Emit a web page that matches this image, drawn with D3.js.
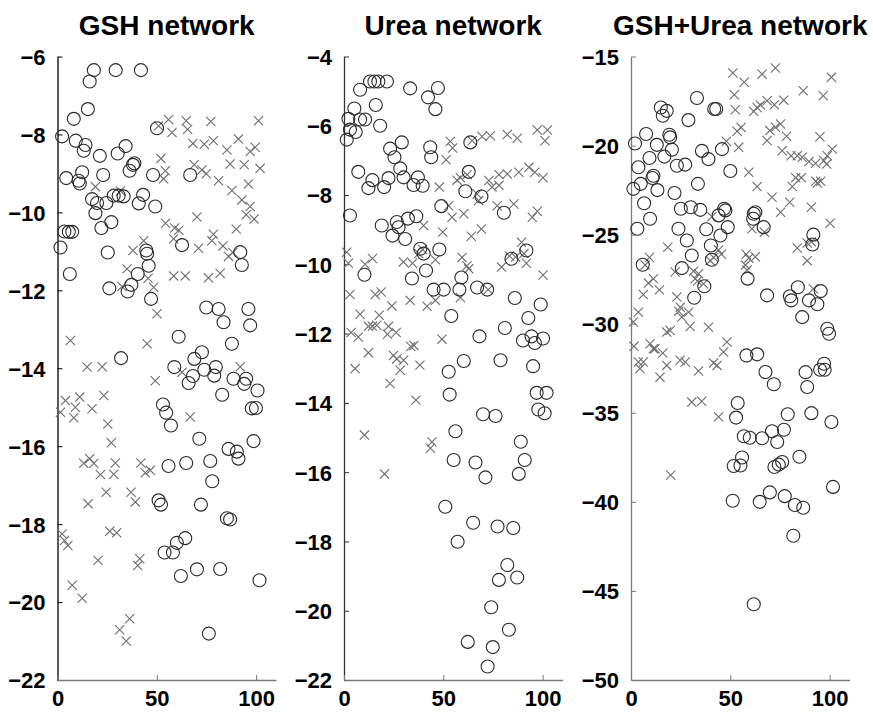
<!DOCTYPE html>
<html>
<head>
<meta charset="utf-8">
<script src="https://cdn.jsdelivr.net/npm/d3@7/dist/d3.min.js"></script>
<style>
  html, body { margin: 0; padding: 0; background: #fff; }
  svg { display: block; }
  text { font-family: Arial, "Liberation Sans", Helvetica, sans-serif; font-weight: bold; fill: #000; }
</style>
</head>
<body>
<svg id="chart" width="873" height="712"></svg>
<script>
// ---------------- DATA ----------------
const titles = ["GSH network", "Urea network", "GSH+Urea network"];
const xTicks = [0, 50, 100];
const yTicksGSH = [-22, -20, -18, -16, -14, -12, -10, -8, -6];
const yTicksUrea = [-22, -20, -18, -16, -14, -12, -10, -8, -6, -4];
const yTicksBoth = [-50, -45, -40, -35, -30, -25, -20, -15];

// GSH network: circles
const gshCircles = [[18.3,-6.35],[29.3,-6.35],[42,-6.35],[16.2,-6.64],[15.3,-7.35],[8.2,-7.6],[2.3,-8.05],[9.2,-8.16],[14.1,-8.27],[13.2,-8.42],[34.3,-8.3],[30.3,-8.49],[21.3,-8.55],[50.1,-7.84],[38.7,-8.74],[38,-8.78],[36.3,-8.93],[4.4,-9.12],[12.4,-8.97],[10.6,-9.19],[11.2,-9.26],[23,-9.04],[48.1,-9.04],[66.8,-9.04],[17.4,-9.66],[19.9,-9.76],[24.6,-9.76],[19.1,-10.02],[28.3,-9.57],[30.8,-9.57],[33.3,-9.59],[43.1,-9.55],[40.9,-9.77],[49.2,-9.85],[3.5,-10.49],[5.7,-10.5],[7.4,-10.5],[1.5,-10.9],[22.1,-10.4],[27.1,-10.25],[25.3,-11.03],[44.7,-10.98],[45.1,-11.06],[45.9,-11.37],[62.7,-10.84],[92,-11.02],[92.8,-11.35],[6.2,-11.58],[40.4,-11.58],[37.2,-11.86],[35.3,-12.03],[26.1,-11.95],[47.1,-12.22],[74.9,-12.44],[81.1,-12.48],[96.1,-12.48],[83.6,-12.82],[97,-12.9],[61,-13.19],[87.8,-13.37],[32,-13.74],[72.7,-13.59],[68.9,-13.76],[58.8,-13.97],[73.9,-14.04],[79.7,-13.97],[78.9,-14.19],[68.2,-14.2],[66,-14.38],[88.6,-14.27],[95,-14.27],[94,-14.4],[100.7,-14.57],[82.9,-14.68],[53.1,-14.93],[54.7,-15.14],[57.1,-15.47],[97.8,-15.03],[99.9,-15.02],[71.4,-15.81],[98.7,-15.87],[86.1,-16.07],[90.3,-16.14],[91.1,-16.32],[76.9,-16.38],[64.8,-16.43],[55.9,-16.51],[77.9,-16.9],[50.9,-17.39],[52.1,-17.5],[72.2,-17.5],[85.3,-17.85],[86.9,-17.88],[64.3,-18.36],[60.1,-18.48],[53.9,-18.73],[58.1,-18.73],[62.1,-19.33],[70.2,-19.16],[81.9,-19.15],[101.7,-19.44],[76.2,-20.81]];
// GSH network: crosses
const gshCrosses = [[50.9,-7.78],[55.9,-7.62],[57.6,-7.95],[64.8,-7.65],[65.5,-7.87],[77.2,-7.67],[101.2,-7.65],[68.2,-8.23],[73.9,-8.25],[78.5,-8.16],[85.3,-8.4],[91.1,-8.12],[97,-8.44],[99.5,-8.33],[52.1,-8.62],[54.3,-8.93],[53.4,-9.14],[68.8,-8.78],[72.7,-8.91],[74.9,-9.01],[81.1,-9.19],[86.9,-8.76],[94,-8.78],[102,-8.87],[96.1,-9.27],[87.8,-9.44],[92.8,-9.68],[97,-9.85],[95,-10.06],[99,-10.17],[19.1,-9.34],[31.7,-9.45],[54.4,-10.28],[59,-10.4],[61.1,-10.46],[70.2,-10.12],[90,-10.43],[58.5,-10.68],[78.5,-10.56],[77.7,-10.73],[83.3,-10.86],[86.1,-11.13],[88.3,-11.03],[71,-10.92],[43.4,-10.73],[38,-10.98],[35,-11.45],[45.6,-11.69],[48.4,-11.92],[32.5,-11.9],[58.5,-11.63],[64.3,-11.63],[76,-11.68],[81.9,-11.56],[50.1,-12.6],[6.5,-13.29],[45.1,-13.37],[14.9,-13.97],[22.5,-13.96],[92,-13.96],[49.2,-14.32],[62.7,-14.1],[4,-14.83],[11.2,-14.74],[9,-15],[1.5,-15.13],[8.2,-15.27],[17.4,-15.04],[23.3,-14.7],[25.3,-15.43],[27.1,-15.91],[66.8,-15.25],[13.2,-16.44],[16.2,-16.32],[18.3,-16.44],[21.6,-16.73],[28.3,-16.72],[29.1,-16.43],[42,-16.43],[44.2,-16.68],[46.7,-16.62],[24.5,-17.18],[15.4,-17.48],[37,-17.18],[39.2,-17.43],[2.3,-18.25],[3.5,-18.42],[5.2,-18.55],[26.3,-18.18],[29.8,-18.22],[20.4,-18.93],[41.4,-18.89],[40.4,-19.06],[7.4,-19.57],[12.4,-19.9],[36.3,-20.43],[31.3,-20.71],[34.6,-21]];

// Urea network: circles
const ureaCircles = [[13.1,-4.72],[15.3,-4.72],[17.3,-4.72],[21.6,-4.72],[8.1,-4.96],[33.3,-4.92],[47.3,-4.91],[42.3,-5.18],[46,-5.52],[16,-5.4],[5.2,-5.5],[2.2,-5.8],[8.1,-5.82],[10.6,-5.82],[18.2,-6],[3,-6.11],[5.9,-6.18],[1.4,-6.4],[29.1,-6.48],[43.4,-6.62],[43.9,-6.91],[23.2,-6.66],[25.4,-6.91],[63.6,-6.48],[28.3,-7.23],[30,-7.49],[7.2,-7.33],[14.3,-7.57],[12.3,-7.8],[20.2,-7.77],[22.4,-7.51],[37.2,-7.49],[35,-7.71],[39.6,-7.73],[62.8,-7.33],[61.1,-7.89],[69.2,-8.04],[49,-8.32],[80.5,-8.51],[3,-8.59],[19,-8.88],[26.6,-8.78],[27.5,-8.93],[24.4,-9.17],[30.8,-9.27],[32.2,-8.68],[36.4,-8.61],[38.4,-9.55],[40.1,-9.69],[48,-9.57],[41.3,-10.18],[34.2,-10.41],[10.3,-10.3],[59.1,-10.38],[45.1,-10.73],[50.2,-10.73],[58.1,-10.73],[67,-10.67],[72.1,-10.73],[84.3,-9.84],[91.8,-9.6],[86,-10.97],[99,-11.16],[92.8,-11.55],[54,-11.49],[68.2,-12.08],[81,-11.84],[90.1,-12.2],[94.4,-12.08],[96.1,-12.27],[100.2,-12.14],[60.3,-12.79],[78.8,-12.77],[52.7,-13.1],[95.2,-12.94],[53.2,-13.76],[97,-13.71],[102,-13.71],[70,-14.33],[76.3,-14.38],[97.8,-14.19],[101,-14.3],[56.1,-14.82],[89,-15.12],[91,-15.65],[88,-16.05],[55.2,-15.65],[66.2,-15.72],[71.2,-16.15],[51,-17],[65,-17.46],[77.3,-17.57],[85.2,-17.61],[57.2,-18.01],[82.2,-18.68],[78,-19.11],[87.2,-19.04],[74.1,-19.9],[83,-20.55],[62.3,-20.9],[74.9,-21.05],[72.3,-21.61]];
// Urea network: crosses
const ureaCrosses = [[53.5,-6.45],[54.7,-6.64],[51.4,-6.98],[69.5,-6.31],[73.7,-6.29],[82.2,-6.25],[87.2,-6.36],[97.3,-6.12],[102.4,-6.12],[101.2,-6.43],[64.5,-6.43],[48,-7.77],[56.9,-7.57],[62,-7.41],[58.6,-7.5],[72.9,-7.58],[78,-7.41],[82.2,-7.39],[88,-7.34],[93.1,-7.2],[96.1,-7.34],[100.2,-7.5],[74.5,-7.77],[78,-7.72],[67,-7.97],[67.8,-8.16],[52.7,-8.31],[60.3,-8.54],[54.4,-8.64],[77.1,-8.31],[85.5,-8.26],[94.8,-8.64],[97.3,-8.47],[40.1,-8.88],[49.7,-9.07],[64.1,-9.19],[69.2,-8.98],[1.3,-9.65],[2.2,-9.97],[10.6,-10],[14.3,-9.83],[29.9,-9.93],[34.5,-9.97],[37.6,-9.69],[39.6,-9.57],[46,-9.87],[59.4,-9.8],[61.9,-10.04],[62.8,-10.13],[79.3,-10.08],[89.4,-9.36],[90.6,-9.69],[86.4,-9.79],[91.8,-9.97],[83.3,-9.76],[100.2,-10.31],[3,-10.87],[15.7,-10.87],[18.7,-10.8],[24.1,-11.2],[33.3,-11.04],[41.8,-11.21],[46,-11.04],[58.6,-10.96],[72.6,-10.73],[8.1,-11.44],[17.7,-11.47],[12.3,-11.79],[14.3,-11.79],[16.5,-11.76],[22.4,-11.79],[21.9,-12.02],[26.3,-11.97],[3.6,-11.97],[7.2,-12.1],[49.3,-12.16],[12.3,-12.55],[24.9,-12.63],[26.6,-12.73],[30,-12.77],[33.6,-12.37],[35.2,-12.34],[38.2,-12.91],[5.6,-13.01],[28.3,-13.06],[23.2,-13.44],[36.2,-13.92],[10.3,-14.93],[44.3,-15.13],[43.5,-15.31],[20.4,-16.05]];

// GSH+Urea network: circles
const bothCircles = [[33.2,-17.33],[15,-17.86],[18,-18.05],[16,-18.33],[41.9,-17.95],[42.9,-17.95],[28.9,-18.57],[7.6,-19.35],[19.3,-19.39],[19.7,-19.54],[2,-19.88],[13,-19.96],[20.6,-20.23],[9.3,-20.7],[16.8,-20.62],[35.7,-20.3],[39,-20.76],[45.8,-20.2],[23.1,-21.13],[27.3,-21.07],[3.7,-21.22],[11.3,-21.69],[10.8,-21.82],[50,-21.43],[4.9,-22.15],[1.2,-22.43],[13.3,-22.5],[21.9,-22.66],[33.7,-22.15],[6.6,-23.24],[9.6,-24.11],[25.1,-23.55],[30.1,-23.46],[34.9,-23.61],[44.1,-23.92],[46.9,-23.55],[47.5,-23.64],[61.8,-23.83],[62.6,-23.74],[66.8,-24.58],[61.5,-24.11],[3.2,-24.67],[23.9,-24.67],[37.9,-24.7],[48.7,-24.58],[45,-25.05],[28.1,-25.33],[40.2,-25.61],[30.6,-26.17],[40.7,-26.41],[5.9,-26.69],[25.6,-26.88],[36.9,-27.9],[31.8,-28.54],[58.7,-27.47],[68.5,-28.41],[84,-27.95],[80,-28.46],[80.7,-28.69],[89.6,-28.69],[93.8,-28.91],[95.5,-28.17],[91.8,-25],[91.3,-25.55],[86.2,-29.63],[98.8,-30.28],[99.7,-30.56],[58.1,-31.78],[63.5,-31.72],[67.7,-32.71],[71.9,-33.4],[87.9,-32.72],[88.7,-33.55],[95.2,-32.58],[97.5,-32.58],[97.2,-32.25],[53.7,-34.45],[52.9,-35.27],[78.9,-35.08],[90.8,-35.02],[100.9,-35.52],[56.8,-36.32],[59.8,-36.4],[66,-36.43],[71,-36.04],[73.6,-36.64],[77,-35.95],[55.9,-37.51],[51.7,-37.99],[55.1,-37.96],[72.2,-38.04],[74.4,-37.91],[76.1,-37.76],[84.8,-37.47],[101.7,-39.16],[51.2,-39.94],[64.8,-40],[69.9,-39.47],[77.4,-39.68],[82.5,-40.18],[86.7,-40.33],[81.7,-41.9],[61.8,-45.75]];
// GSH+Urea network: crosses
const bothCrosses = [[51.3,-15.93],[57,-16.45],[66,-15.99],[72.7,-15.65],[100.9,-16.17],[52,-17.15],[86.7,-16.92],[96.8,-17.2],[52.5,-17.99],[61.8,-18.08],[65.2,-17.73],[68.5,-17.48],[72.2,-17.71],[76.9,-17.45],[63.5,-17.86],[53.4,-19.2],[55.4,-18.98],[48,-19.76],[54.2,-20.1],[68.5,-19.72],[69.9,-19.16],[72.7,-18.97],[75.3,-18.79],[78.3,-19.48],[95.1,-19.5],[76.1,-20.29],[80.6,-20.57],[83.7,-20.57],[86.2,-20.66],[89.6,-20.89],[92.9,-21],[97.1,-20.85],[98.8,-20.57],[101.3,-20.2],[98.5,-21.04],[59.3,-21.5],[63.5,-22.3],[81.2,-22.3],[82.9,-21.8],[85.7,-21.8],[93,-22],[95.5,-22],[93.8,-22.1],[71,-22.9],[79.9,-23.18],[75.3,-23.74],[90.8,-23.46],[100.2,-24.36],[60.9,-24.67],[67.2,-24.86],[83.7,-25.75],[88.7,-25.47],[88.7,-26.46],[90.8,-25.4],[18.5,-25.71],[40.7,-24],[44.1,-25.86],[45.5,-26.1],[41.6,-26.28],[39.9,-26.46],[58,-26.1],[59.3,-26.32],[62.6,-26.24],[57.6,-26.71],[58.4,-26.99],[9.3,-26.28],[7.1,-26.71],[11.3,-27.48],[8.8,-27.72],[6.2,-28.36],[14.3,-28.1],[22.2,-27.1],[31.5,-27.05],[32.3,-27.48],[34,-27.2],[33.5,-27.6],[23.1,-28.5],[36.5,-27.76],[91.8,-28.04],[3.7,-29.35],[1.2,-29.9],[24.8,-29.07],[24,-29.3],[25.6,-29.63],[29,-29.35],[29.8,-30.16],[39,-30.2],[18,-30.47],[19.7,-30.38],[1.5,-31.27],[9.6,-31.12],[11.3,-31.4],[12.1,-31.4],[16,-31.64],[48.3,-31.03],[46.6,-31.59],[3.7,-32.15],[6.2,-32.15],[18,-32.34],[24.7,-32.05],[27.3,-32.15],[34,-32.65],[41.6,-32.2],[43.3,-32.34],[4.5,-32.52],[14.6,-33],[30.6,-34.4],[35.6,-34.35],[44.1,-35.23],[20,-38.5]];

// ---------------- DRAWING ----------------
const svg = d3.select("#chart");
const plotTop = 56.5, plotBottom = 680, plotW = 218.5;
const panels = [
  { left: 57.5, title: titles[0], yDomain: [-22, -6], yTicks: yTicksGSH, circles: gshCircles, crosses: gshCrosses, yAxisColor: "#000", xAxisColor: "#7a7a7a" },
  { left: 344, title: titles[1], yDomain: [-22, -4], yTicks: yTicksUrea, circles: ureaCircles, crosses: ureaCrosses, yAxisColor: "#333", xAxisColor: "#7a7a7a" },
  { left: 631, title: titles[2], yDomain: [-50, -15], yTicks: yTicksBoth, circles: bothCircles, crosses: bothCrosses, yAxisColor: "#7a7a7a", xAxisColor: "#7a7a7a" }
];

const fmt = v => (v < 0 ? "\u2212" + Math.abs(v) : String(v));

panels.forEach(p => {
  const x = d3.scaleLinear().domain([0, 110]).range([p.left, p.left + plotW]);
  const y = d3.scaleLinear().domain(p.yDomain).range([plotBottom, plotTop]);
  const g = svg.append("g");

  g.append("text")
    .attr("x", (x.range()[0] + x.range()[1]) / 2)
    .attr("y", 35)
    .attr("text-anchor", "middle")
    .style("font-size", "28px")
    .text(p.title);

  const yAxis = d3.axisLeft(y).tickValues(p.yTicks).tickSize(-5).tickSizeOuter(0).tickPadding(12).tickFormat(fmt);
  const ya = g.append("g").attr("transform", `translate(${p.left},0)`).call(yAxis);
  ya.select(".domain").attr("stroke", p.yAxisColor).attr("stroke-width", 1.3);
  ya.selectAll(".tick line").attr("stroke", p.yAxisColor).attr("stroke-width", 1);
  ya.selectAll(".tick text").style("font-size", "22px").attr("fill", "#000").attr("dy", "0.36em");

  const xAxis = d3.axisBottom(x).tickValues(xTicks).tickSize(-5).tickSizeOuter(0).tickPadding(12).tickFormat(fmt);
  const xa = g.append("g").attr("transform", `translate(0,${plotBottom})`).call(xAxis);
  xa.select(".domain").attr("stroke", p.xAxisColor).attr("stroke-width", 1.3);
  xa.selectAll(".tick line").attr("stroke", p.xAxisColor).attr("stroke-width", 1);
  xa.selectAll(".tick text").style("font-size", "22px").attr("fill", "#000").attr("dy", "0.62em");

  const s = 4.6;
  g.append("g").selectAll("path").data(p.crosses).join("path")
    .attr("d", d => {
      const cx = x(d[0]), cy = y(d[1]);
      return `M${cx - s},${cy - s}L${cx + s},${cy + s}M${cx - s},${cy + s}L${cx + s},${cy - s}`;
    })
    .attr("fill", "none")
    .attr("stroke", "#6e6e6e")
    .attr("stroke-width", 1.1);

  g.append("g").selectAll("circle").data(p.circles).join("circle")
    .attr("cx", d => x(d[0]))
    .attr("cy", d => y(d[1]))
    .attr("r", 6.5)
    .attr("fill", "none")
    .attr("stroke", "#2a2a2a")
    .attr("stroke-width", 1.1);
});
</script>
</body>
</html>
